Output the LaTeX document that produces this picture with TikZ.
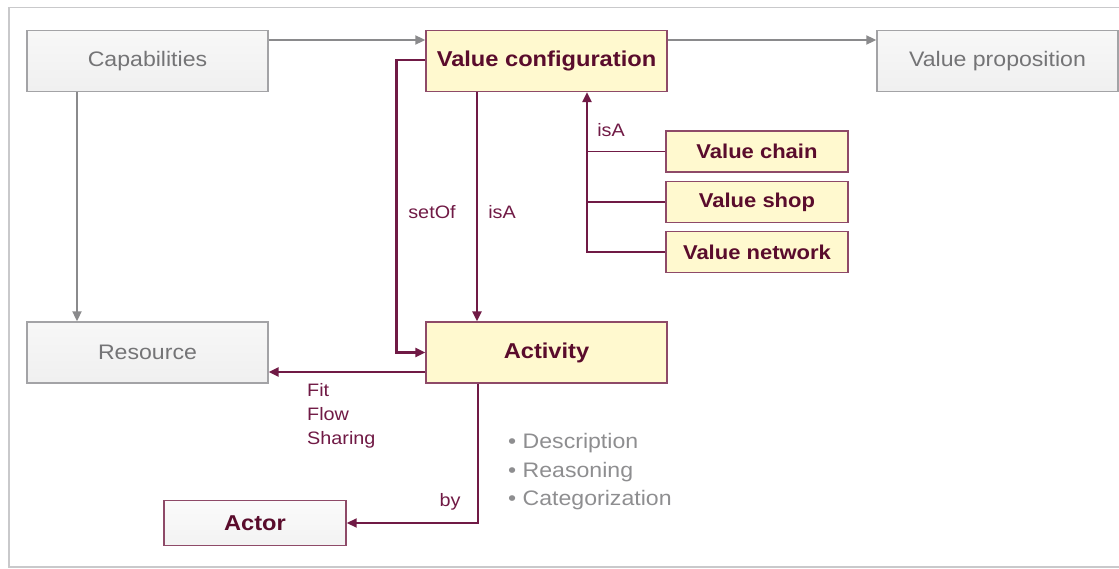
\documentclass[tikz,border=0pt]{standalone}
\usepackage{fontspec}
\setmainfont[FakeStretch=1.1]{Liberation Sans}
\usetikzlibrary{arrows.meta}
\definecolor{maroon}{HTML}{701A45}
\definecolor{maroontext}{HTML}{5A0C2C}
\definecolor{boxedge}{HTML}{8E4A68}
\definecolor{paleyellow}{HTML}{FFF9CF}
\definecolor{grayedge}{HTML}{A3A3A6}
\definecolor{graytext}{HTML}{747476}
\definecolor{grayline}{HTML}{8A8A8C}
\definecolor{lighttext}{HTML}{8E8E90}
\definecolor{frame}{HTML}{C9C9CB}
\tikzset{
  conceptbox/.style={draw=boxedge, line width=1.4pt, fill=paleyellow,
    text=maroontext, font=\fontsize{21.5}{25}\selectfont\bfseries,
    minimum width=241pt, minimum height=61pt, inner sep=0pt},
  subbox/.style={conceptbox, font=\fontsize{20}{24}\selectfont\bfseries,
    minimum width=182pt, minimum height=41pt},
  graybox/.style={draw=grayedge, line width=1.4pt, top color=white!94!gray,
    bottom color=white!88!gray, text=graytext, font=\fontsize{21}{25}\selectfont,
    minimum width=241pt, minimum height=61pt, inner sep=0pt},
  actorbox/.style={draw=boxedge, line width=1.4pt, top color=white!97!gray,
    bottom color=white!90!gray, text=maroontext,
    font=\fontsize{21.5}{25}\selectfont\bfseries,
    minimum width=182pt, minimum height=45pt, inner sep=0pt},
  mline/.style={draw=maroon, line width=2.6pt},
  thinline/.style={draw=maroon, line width=1.8pt},
  marrow/.style={mline, -{Triangle[length=10pt,width=9pt]}},
  gline/.style={draw=grayline, line width=2pt, -{Triangle[length=10pt,width=9pt]}},
  rel/.style={text=maroon, font=\fontsize{18}{24}\selectfont, inner sep=0pt},
}
\begin{document}
\begin{tikzpicture}[x=1pt, y=-1pt]
\useasboundingbox (0,0) rectangle (1119,569);
% outer frame
\draw[frame, line width=1.6pt] (1130,7.5) -- (9,7.5) -- (9,567) -- (1130,567);

% boxes
\node[graybox]  (cap)   at (147.5,61)  {Capabilities};
\node[conceptbox] (vc)  at (546.5,61)  {Value configuration};
\node[graybox]  (vp)    at (997.5,61)  {Value proposition};
\node[graybox]  (res)   at (147.5,352.5) {Resource};
\node[conceptbox] (act) at (546.5,352.5) {Activity};
\node[subbox]   (chain) at (757,151.5) {Value chain};
\node[subbox]   (shop)  at (757,202)   {Value shop};
\node[subbox]   (net)   at (757,252)   {Value network};
\node[actorbox] (actor) at (255,523)   {Actor};

% gray relations
\draw[gline] ([yshift=21pt]cap.east) -- ([yshift=21pt]vc.west);
\draw[gline] ([yshift=21pt]vc.east) -- ([yshift=21pt]vp.west);
\draw[gline] ([xshift=-70.5pt]cap.south) -- ([xshift=-70.5pt]res.north);

% value configuration to activity
\draw[marrow] ([yshift=1pt]vc.west) -- ++(-29pt,0) |- (act.west);
\draw[marrow] ([xshift=-69.5pt]vc.south) -- ([xshift=-69.5pt]act.north);

% specialisations of value configuration
\coordinate (isatop) at ([xshift=40.5pt]vc.south);
\draw[marrow] (net.west) -| (isatop);
\draw[thinline] (chain.west) -- (chain.west -| isatop);
\draw[thinline] (shop.west) -- (shop.west -| isatop);

% activity to resource and actor
\draw[marrow] ([yshift=-19.5pt]act.west) -- ([yshift=-19.5pt]res.east);
\draw[thinline, -{Triangle[length=10pt,width=9pt]}] ([xshift=-68.5pt]act.south) |- (actor.east);

% relation labels
\node[rel] (lset)  at (432,212) {setOf};
\node[rel] (lisa1) at (502,212) {isA};
\node[rel] (lisa2) at (611,130) {isA};
\node[rel, anchor=north west, align=left] (lfit) at (307,383) {Fit\\Flow\\Sharing};
\node[rel] (lby) at (450,502) {by};

% kinds of activity
\node[anchor=west, align=left, text=lighttext, inner sep=0pt,
      font=\fontsize{21}{28.5}\selectfont] (kinds) at (508,472)
  {\textbullet\ Description\\\textbullet\ Reasoning\\\textbullet\ Categorization};
\end{tikzpicture}
\end{document}
